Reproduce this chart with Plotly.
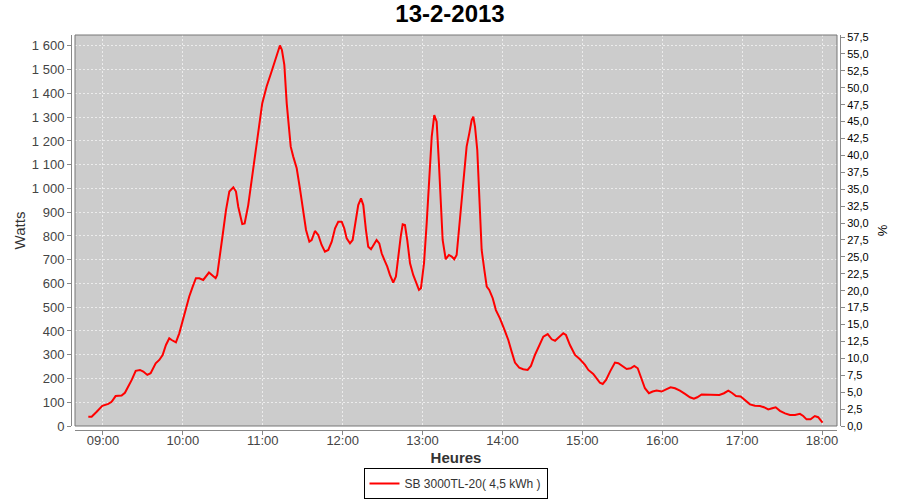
import plotly.graph_objects as go
import pandas as pd

title_text = "13-2-2013"
series_name = "SB 3000TL-20( 4,5 kWh )"
y_title = "Watts"
y2_title = "%"
x_title = "Heures"

# minutes relative to 09:00
minutes_from_9 = [
    -11.0, -8.5, -4.7, -0.5, 4.0, 6.5, 9.5, 14.0, 16.5, 19.0, 21.6, 24.6, 27.8, 30.3, 33.3, 35.8,
    39.6, 42.3, 44.8, 47.3, 49.8, 51.6, 54.8, 57.3, 59.9, 62.3, 64.8, 67.4, 69.8, 72.3, 75.3, 79.6,
    82.4, 84.6, 85.8, 87.9, 89.9, 92.4, 94.9, 97.9, 99.9, 101.6, 103.4, 104.6, 106.4, 109.1, 111.7,
    114.2, 117.2, 119.6, 122.9, 126.2, 128.6, 130.9, 132.9, 134.4, 136.2, 138.0, 139.7, 141.0, 142.9,
    145.5, 147.9, 150.0, 152.5, 155.0, 156.7, 159.2, 161.7, 164.2, 166.7, 169.2, 171.8, 174.3, 176.7,
    179.3, 181.2, 183.0, 185.5, 187.5, 190.0, 191.7, 193.8, 195.5, 197.5, 199.2, 201.3, 203.0, 205.5,
    207.5, 209.3, 211.3, 213.5, 215.5, 218.0, 220.0, 221.8, 223.6, 225.1, 226.8, 228.5, 230.6, 233.0,
    235.1, 237.3, 238.8, 241.1, 243.1, 245.0, 246.9, 248.8, 250.6, 252.3, 253.8, 255.1, 257.4, 259.8,
    261.9, 263.8, 265.6, 267.4, 269.4, 271.1, 273.1, 275.1, 276.9, 278.1, 279.4, 281.1, 282.6, 284.4,
    286.4, 288.2, 290.1, 292.7, 295.1, 298.1, 301.4, 304.4, 306.9, 309.4, 312.6, 315.6, 318.9, 321.4,
    324.4, 327.7, 330.7, 334.0, 337.0, 339.5, 343.2, 345.7, 347.7, 350.7, 354.5, 358.2, 362.0, 364.5,
    368.2, 370.8, 373.2, 375.3, 377.8, 380.8, 384.5, 387.0, 390.3, 393.3, 396.3, 399.0, 401.6, 404.0,
    407.0, 410.0, 412.8, 415.8, 419.6, 423.3, 426.3, 429.6, 433.3, 437.1, 440.8, 443.8, 446.3, 449.6,
    452.8, 456.4, 459.6, 462.9, 466.4, 469.6, 472.2, 475.4, 478.9, 482.1, 485.9, 489.6, 493.4, 496.4,
    499.6, 502.6, 505.2, 508.4, 512.2, 515.9, 519.7, 523.4, 525.9, 528.4, 531.4, 534.6, 537.1, 540.4,
]
watts = [
    39, 39, 60, 85, 93, 102, 126, 128, 140, 166, 194, 232, 236, 229, 215, 222,
    264, 278, 299, 341, 369, 362, 352, 390, 446, 495, 545, 587, 622, 622, 615, 646,
    632, 622, 636, 713, 804, 909, 987, 1005, 987, 923, 881, 850, 853, 930, 1036,
    1148, 1260, 1358, 1429, 1485, 1527, 1576, 1602, 1583, 1520, 1358, 1232, 1176, 1134,
    1085, 1000, 923, 825, 776, 783, 821, 804, 762, 734, 741, 776, 832, 860,
    860, 832, 790, 769, 783, 860, 930, 958, 930, 825, 755, 744, 762, 783,
    769, 727, 699, 671, 636, 604, 629, 727, 797, 849, 846, 783, 685, 636,
    601, 573, 580, 685, 853, 1064, 1218, 1309, 1281, 1106, 923, 783, 702, 720,
    713, 702, 720, 825, 937, 1064, 1176, 1232, 1288, 1302, 1260, 1162, 994, 741,
    657, 587, 573, 538, 488, 453, 407, 362, 313, 267, 246, 239, 236, 253,
    299, 341, 376, 387, 365, 359, 376, 390, 383, 341, 299, 281, 257, 236,
    219, 201, 182, 177, 194, 229, 267, 264, 250, 240, 243, 253, 243, 208,
    159, 138, 145, 149, 145, 155, 163, 159, 149, 135, 121, 115, 121, 133,
    132, 131, 133, 131, 138, 149, 140, 126, 124, 109, 91, 85, 84, 79,
    70, 75, 79, 64, 53, 46, 46, 51, 42, 28, 28, 42, 37, 14,
]

base = pd.Timestamp("2013-02-13 09:00:00")
times = base + pd.to_timedelta(minutes_from_9, unit="m")

x_range = ["2013-02-13 08:39:00", "2013-02-13 18:11:15"]
y_range = [0, 1646]
y2_range = [0, 57.8]

fig = go.Figure()
fig.add_trace(go.Scatter(
    x=times, y=watts, mode="lines", name=series_name,
    line=dict(color="#ff0000", width=2),
))
# empty series on the right % axis so it is drawn
fig.add_trace(go.Scatter(x=[None], y=[None], yaxis="y2", showlegend=False, mode="lines"))

font_main = "Liberation Sans, Arial, sans-serif"
axis_gray = "#888888"
grid_col = "#ececec"

fig.update_layout(
    width=900, height=500,
    margin=dict(l=71, r=60, t=35, b=70, autoexpand=False),
    paper_bgcolor="white",
    plot_bgcolor="#cccccc",
    separators=", ",
    font=dict(family=font_main, size=13, color="#444444"),
    title=dict(text="<b>" + title_text + "</b>", x=0.5, xref="container", xanchor="center",
               y=1 - 14 / 500, yref="container", yanchor="middle",
               font=dict(size=24, color="black", family=font_main)),
    showlegend=True,
    legend=dict(orientation="h", x=0.5, xanchor="center", y=-0.1747, yanchor="bottom",
                bordercolor="black", borderwidth=1, bgcolor="white",
                font=dict(size=12, color="#333333", family=font_main),
                tracegroupgap=0),
    xaxis=dict(
        type="date", range=x_range, domain=[4 / 769, 766 / 769],
        anchor="free", position=0, automargin=False,
        tickformat="%H:%M", dtick=3600000,
        showgrid=True, gridcolor=grid_col, griddash="2px,2px", gridwidth=1,
        showline=True, linecolor=axis_gray, linewidth=1,
        ticks="outside", ticklen=4, tickcolor=axis_gray,
        ticklabelstandoff=-6,
        tickfont=dict(size=13, color="#444444"),
        title=dict(text="<b>" + x_title + "</b>", font=dict(size=15, color="#333333"), standoff=5),
        zeroline=False,
    ),
    yaxis=dict(
        range=y_range, domain=[4 / 395, 1],
        anchor="free", position=0, automargin=False,
        tickmode="linear", tick0=0, dtick=100, tickformat=",d",
        showgrid=True, gridcolor=grid_col, griddash="2px,2px", gridwidth=1,
        showline=True, linecolor=axis_gray, linewidth=1,
        ticks="outside", ticklen=4, tickcolor=axis_gray,
        tickfont=dict(size=13, color="#444444"),
        title=dict(text=y_title, font=dict(size=15, color="#333333"), standoff=1),
        zeroline=False,
    ),
    yaxis2=dict(
        range=y2_range, overlaying="y", side="right",
        anchor="free", position=1, automargin=False,
        tickmode="linear", tick0=0, dtick=2.5, tickformat=".1f",
        showgrid=False,
        showline=True, linecolor=axis_gray, linewidth=1,
        ticks="outside", ticklen=4, tickcolor=axis_gray,
        tickfont=dict(size=11, color="black"),
        title=dict(text=y2_title, font=dict(size=13, color="black"), standoff=10),
        zeroline=False,
    ),
    shapes=[dict(type="rect", xref="x domain", yref="y domain", x0=0, x1=1, y0=0, y1=1,
                 line=dict(color="#777777", width=1), fillcolor="rgba(0,0,0,0)", layer="above")],
)

fig.write_html("out.html", config={"displayModeBar": False},
               post_script="document.body.style.margin='0px';document.body.style.overflow='hidden';")
